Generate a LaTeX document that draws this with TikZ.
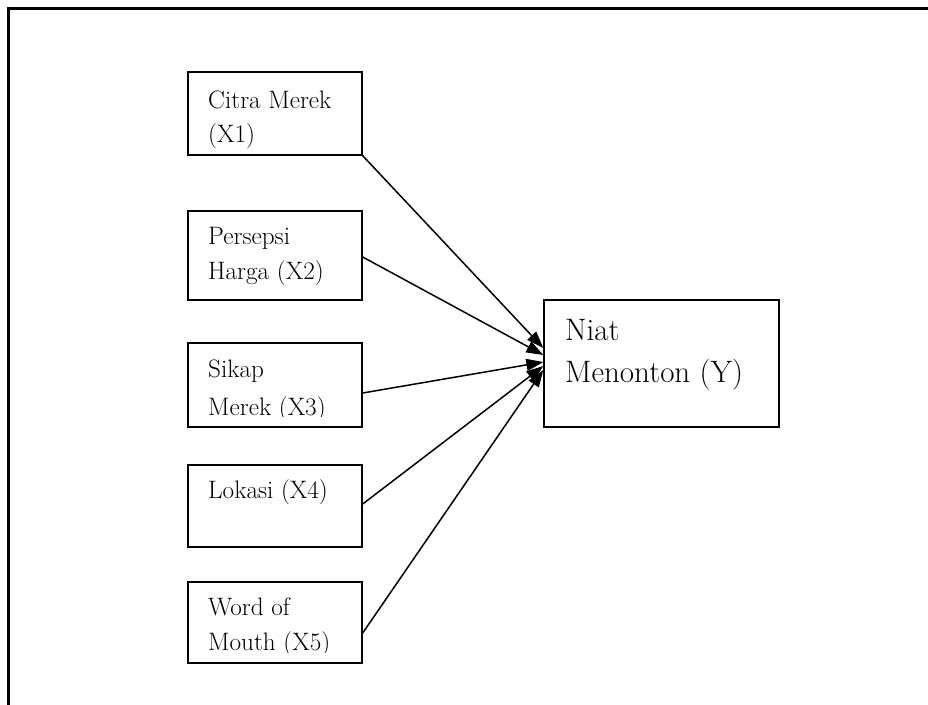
\documentclass[tikz,border=0pt]{standalone}
\usetikzlibrary{arrows.meta}
\begin{document}
\begin{tikzpicture}[x=1pt,y=-1pt,
  varbox/.style={draw,line width=1.4pt,minimum width=174pt,inner sep=0pt},
  lbl/.style={anchor=base west,inner sep=0pt,font=\fontsize{25.2}{30}\selectfont},
  lblbig/.style={anchor=base west,inner sep=0pt,font=\fontsize{31}{36}\selectfont},
  link/.style={line width=1.5pt,-{Triangle[length=17pt,width=12pt]}}]
\useasboundingbox (0,0) rectangle (928,704);
\begin{scope}
\clip (0,0) rectangle (928,704);
\draw[line width=3pt] (8,8) rectangle (1000,800);
\end{scope}
% boxes
\node[varbox,minimum height=83pt] (x1) at (275,113.5) {};
\node[varbox,minimum height=89pt] (x2) at (275,255.5) {};
\node[varbox,minimum height=84pt] (x3) at (275,385) {};
\node[varbox,minimum height=82pt] (x4) at (275,506) {};
\node[varbox,minimum height=81pt] (x5) at (275,622.5) {};
\node[draw,line width=1.4pt,minimum width=235pt,minimum height=127pt,inner sep=0pt] (y) at (661.5,363.5) {};
% texts
\node[lbl] (t1a) at (208,108) {Citra Merek};
\node[lbl] (t1b) at (208,142) {(X1)};
\node[lbl] (t2a) at (208,244) {Persepsi};
\node[lbl] (t2b) at (208,279) {Harga (X2)};
\node[lbl] (t3a) at (208,377) {Sikap};
\begin{scope}
\clip (190,392) rectangle (360,416.5);
\node[lbl] (t3b) at (208,415) {Merek (X3)};
\end{scope}
\node[lbl] (t4a) at (208,498) {Lokasi (X4)};
\node[lbl] (t5a) at (208,615) {Word of};
\begin{scope}
\clip (190,626) rectangle (360,652);
\node[lbl] (t5b) at (208,650) {Mouth (X5)};
\end{scope}
\node[lblbig] (tya) at (565,340) {Niat};
\node[lblbig] (tyb) at (565,382) {Menonton (Y)};
% connectors
\draw[link] (x1.south east) -- ([yshift=15.5pt]y.west);
\draw[link] ([yshift=-1.5pt]x2.east) -- ([yshift=8.5pt]y.west);
\draw[link] ([yshift=-8pt]x3.east) -- ([yshift=1.5pt]y.west);
\draw[link] ([yshift=2pt]x4.east) -- ([yshift=-2.5pt]y.west);
\draw[link] ([yshift=-10.5pt]x5.east) -- ([yshift=-6.5pt]y.west);
\end{tikzpicture}
\end{document}
